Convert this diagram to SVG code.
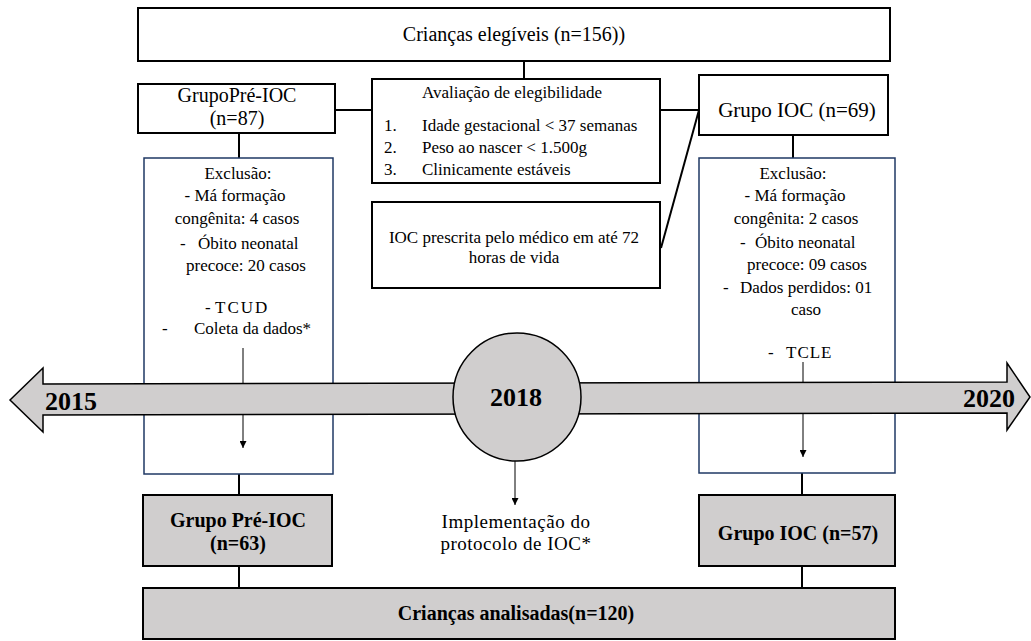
<svg xmlns="http://www.w3.org/2000/svg" width="1031" height="641" viewBox="0 0 1031 641">
<defs>
<style>
.box{fill:#ffffff;stroke:#000000;stroke-width:2}
.gbox{fill:#D0CECE;stroke:#000000;stroke-width:2}
.ebox{fill:#ffffff;stroke:#1F3864;stroke-width:1.5}
.ln{stroke:#000000;stroke-width:2;fill:none}
.thin{stroke:#000000;stroke-width:1;fill:none}
text{font-family:"Liberation Serif","Times New Roman",serif;fill:#000000}
.t17{font-size:17px}
.t20{font-size:20px}
.t21{font-size:21px}
.b20{font-size:20px;font-weight:bold}
.yr{font-size:26px;font-weight:bold}
.mid{text-anchor:middle}
</style>
<marker id="ah" viewBox="0 0 10 10" refX="10" refY="5" markerWidth="7" markerHeight="7" markerUnits="userSpaceOnUse" orient="auto">
<path d="M0,0 L10,5 L0,10 z" fill="#000000"/>
</marker>
</defs>
<rect width="1031" height="641" fill="#ffffff"/>

<g id="connectors">
<line class="ln" x1="524" y1="61" x2="524" y2="79"/>
<line class="ln" x1="335" y1="110" x2="372" y2="110"/>
<line class="ln" x1="660" y1="110" x2="699" y2="110"/>
<line class="ln" x1="699" y1="110" x2="661" y2="248"/>
<line class="ln" x1="239" y1="133" x2="239" y2="158"/>
<line class="ln" x1="793" y1="135" x2="793" y2="158"/>
<line class="ln" x1="239" y1="474" x2="239" y2="495"/>
<line class="ln" x1="802" y1="473" x2="802" y2="495"/>
<line class="ln" x1="239" y1="566" x2="239" y2="588"/>
<line class="ln" x1="802" y1="566" x2="802" y2="588"/>
</g>

<g id="top">
<rect class="box" x="138" y="8" width="752" height="53"/>
<text class="t20 mid" x="514" y="41">Crianças elegíveis (n=156))</text>
</g>

<g id="grupo-pre-ioc-top">
<rect class="box" x="138" y="84" width="197" height="49"/>
<text class="t20 mid" x="237" y="102">GrupoPré-IOC</text>
<text class="t20 mid" x="237" y="125">(n=87)</text>
</g>

<g id="avaliacao">
<rect class="box" x="372" y="79" width="288" height="104"/>
<text class="t17 mid" x="512" y="98">Avaliação de elegibilidade</text>
<text class="t17" x="384" y="131">1.</text>
<text class="t17" x="422" y="131">Idade gestacional &lt; 37 semanas</text>
<text class="t17" x="384" y="153">2.</text>
<text class="t17" x="422" y="153">Peso ao nascer &lt; 1.500g</text>
<text class="t17" x="384" y="175">3.</text>
<text class="t17" x="422" y="175">Clinicamente estáveis</text>
</g>

<g id="grupo-ioc-top">
<rect class="box" x="699" y="75" width="189" height="60"/>
<text class="t21 mid" x="797" y="117">Grupo IOC (n=69)</text>
</g>

<g id="ioc-prescrita">
<rect class="box" x="372" y="202" width="288" height="86"/>
<text class="t17 mid" x="514" y="243">IOC prescrita pelo médico em até 72</text>
<text class="t17 mid" x="514" y="263">horas de vida</text>
</g>

<g id="exclusao-pre">
<rect class="ebox" x="144" y="158" width="189" height="316"/>
<text class="t17 mid" x="238" y="179">Exclusão:</text>
<text class="t17 mid" x="235" y="201">- Má formação</text>
<text class="t17 mid" x="237" y="224">congênita: 4 casos</text>
<text class="t17" x="180" y="249">-</text>
<text class="t17" x="198" y="249">Óbito neonatal</text>
<text class="t17" x="186" y="271">precoce: 20 casos</text>
<text class="t17" x="205" y="313">-</text>
<text class="t17" x="215" y="313" letter-spacing="2">TCUD</text>
<text class="t17" x="162" y="334">-</text>
<text class="t17" x="194" y="334">Coleta da dados*</text>
<line class="thin" x1="243" y1="348" x2="243" y2="448" marker-end="url(#ah)"/>
</g>

<g id="exclusao-ioc">
<rect class="ebox" x="699" y="158" width="196" height="315"/>
<text class="t17 mid" x="793" y="179">Exclusão:</text>
<text class="t17 mid" x="795" y="201">- Má formação</text>
<text class="t17 mid" x="796" y="224">congênita: 2 casos</text>
<text class="t17" x="740" y="248">-</text>
<text class="t17" x="755" y="248">Óbito neonatal</text>
<text class="t17" x="747" y="270">precoce: 09 casos</text>
<text class="t17" x="723" y="293">-</text>
<text class="t17" x="740" y="293">Dados perdidos: 01</text>
<text class="t17 mid" x="806" y="315">caso</text>
<text class="t17" x="768" y="358">-</text>
<text class="t17" x="786" y="358" letter-spacing="1">TCLE</text>
<line class="thin" x1="803" y1="362" x2="803" y2="457" marker-end="url(#ah)"/>
</g>

<g id="timeline">
<polygon points="10,400 43,368 43,384 1007,382 1007,363 1030,397 1007,430 1007,413 43,415 43,432" fill="#D0CECE" stroke="#000000" stroke-width="1.5" stroke-linejoin="miter"/>
<text class="yr" x="45" y="410">2015</text>
<text class="yr" x="1015" y="407" text-anchor="end">2020</text>
</g>

<g id="marco-2018">
<circle cx="517" cy="397" r="64" fill="#D0CECE" stroke="#000000" stroke-width="1.5"/>
<text class="yr mid" x="516" y="406">2018</text>
<line class="thin" x1="515" y1="461" x2="515" y2="505" marker-end="url(#ah)"/>
<text class="mid" x="516" y="528" font-size="19" letter-spacing="0.5">Implementação do</text>
<text class="mid" x="516" y="550" font-size="19" letter-spacing="0.5">protocolo de IOC*</text>
</g>

<g id="grupo-pre-ioc-final">
<rect class="gbox" x="143" y="495" width="189" height="71"/>
<text class="b20 mid" x="238" y="527">Grupo Pré-IOC</text>
<text class="b20 mid" x="238" y="550">(n=63)</text>
</g>

<g id="grupo-ioc-final">
<rect class="gbox" x="699" y="495" width="196" height="71"/>
<text class="b20 mid" x="798" y="540">Grupo IOC (n=57)</text>
</g>

<g id="analisadas">
<rect class="gbox" x="143" y="588" width="752" height="51"/>
<text class="b20 mid" x="516" y="620">Crianças analisadas(n=120)</text>
</g>
</svg>
